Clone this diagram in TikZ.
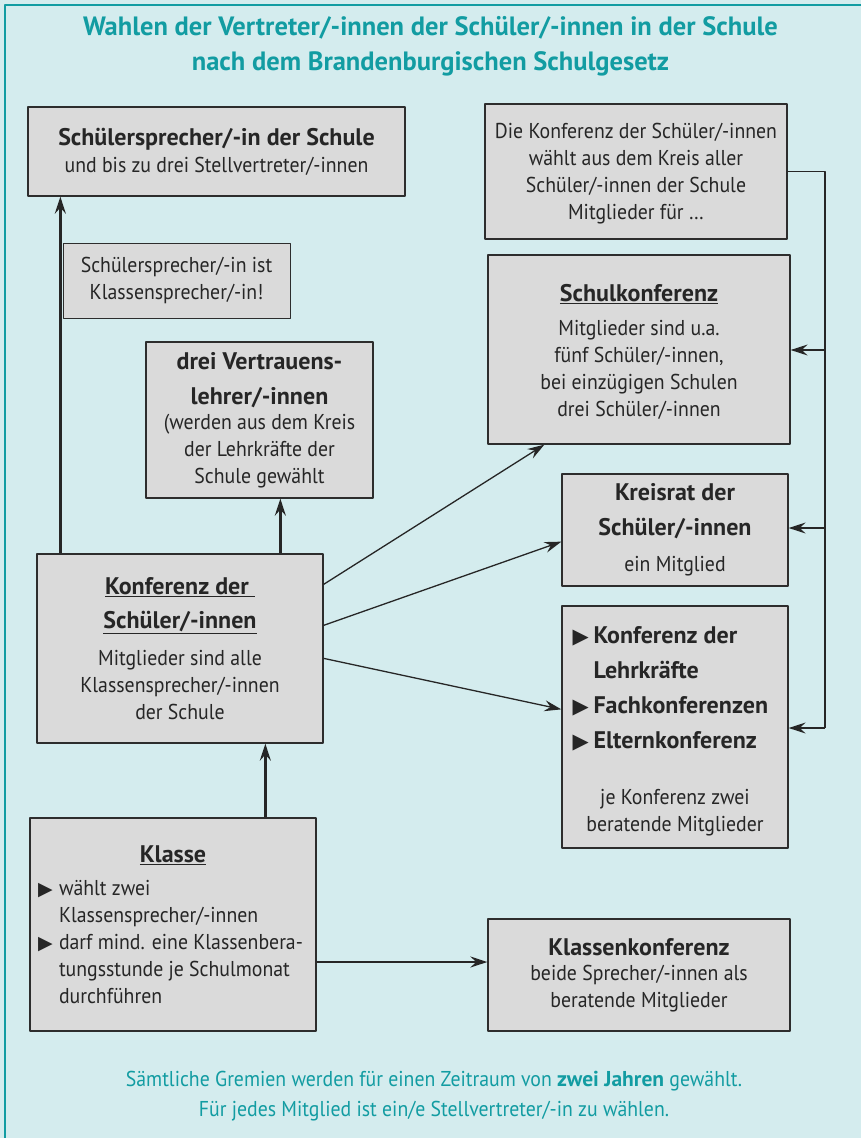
\documentclass[tikz,border=0pt]{standalone}
\usepackage{fontspec}
\setmainfont{PT Sans}[FakeStretch=0.92, BoldFeatures={FakeStretch=1}]
\newfontfamily\symfont{DejaVu Sans}
\usetikzlibrary{arrows.meta,calc}
\definecolor{bglight}{RGB}{212,236,238}
\definecolor{tealtext}{RGB}{18,156,162}
\definecolor{boxgray}{RGB}{218,218,218}
\definecolor{boxline}{RGB}{45,45,45}
% bullet: size, width of bullet plus gap
\newcommand{\tri}[2]{\makebox[#2pt][l]{\symfont\fontsize{#1}{#1}\selectfont ▶}}
\tikzset{
  gbox/.style={draw=boxline, fill=boxgray, line width=1.3pt, inner sep=0pt, align=center, text=black!85},
  body/.style={font=\fontsize{21.5}{27}\selectfont},
  thickarrow/.style={line width=2.4pt, draw=black!85, -{Stealth[length=17pt,width=11pt,inset=6pt]}},
  thinarrow/.style={line width=1.3pt, draw=black!85, -{Stealth[length=17pt,width=11pt,inset=6pt]}}
}
\newcommand{\hd}[1]{{\fontsize{24}{35}\selectfont\bfseries #1}}
\begin{document}
\begin{tikzpicture}[x=1pt, y=-1pt, line join=round]
		\useasboundingbox (0,0) rectangle (861,1138);
		\fill[bglight] (0,0) rectangle (861,1138);
		\draw[tealtext, line width=1.5pt] (5,1138)--(5,5)--(861,5);
		% title
		\node[tealtext, font=\fontsize{26.5}{35}\selectfont\bfseries, align=center] (title) at (430.5,46.5) {Wahlen der Vertreter/-innen der Schüler/-innen in der Schule\\nach dem Brandenburgischen Schulgesetz};
		% boxes
		\node[gbox, body, minimum width=377, minimum height=89] (sprecher) at (216.5,151.5)
			{\hd{Schülersprecher/-in der Schule}\\und bis zu drei Stellvertreter/-innen};
		\node[gbox, body, minimum width=302, minimum height=135] (info) at (636,171.5)
			{Die Konferenz der Schüler/-innen\\wählt aus dem Kreis aller\\Schüler/-innen der Schule\\Mitglieder für \dots\\[-26pt]};
		\node[gbox, body, line width=0.9pt, minimum width=227, minimum height=75] (hinweis) at (176.5,280.5)
			{Schülersprecher/-in ist\\Klassensprecher/-in!};
		\node[gbox, body, minimum width=227, minimum height=156] (vertrauen) at (259.5,420)
			{\hd{drei Vertrauens-}\\[8pt]\hd{lehrer/-innen}\\[-2pt](werden aus dem Kreis\\der Lehrkräfte der\\Schule gewählt\\[-23pt]};
		\node[gbox, body, minimum width=302, minimum height=189] (schulk) at (639,349.5)
			{\hd{\underline{Schulkonferenz}}\\[7pt]Mitglieder sind u.a.\\fünf Schüler/-innen,\\bei einzügigen Schulen\\drei Schüler/-innen\\[-29pt]};
		\node[gbox, body, minimum width=226, minimum height=112] (kreisrat) at (675,530)
			{\hd{Kreisrat der}\\[8pt]\hd{Schüler/-innen}\\[9pt]ein Mitglied};
		\node[gbox, body, minimum width=226, minimum height=242] (lehrk) at (675,727)
			{\begin{minipage}{205pt}\fontsize{24}{35}\selectfont\bfseries
			\tri{21}{21}Konferenz der\\\hspace*{21pt}Lehrkräfte\\\tri{21}{21}Fachkonferenzen\\\tri{21}{21}Elternkonferenz\end{minipage}\\[37pt]je Konferenz zwei\\beratende Mitglieder\\[-31pt]};
		\node[gbox, body, minimum width=286, minimum height=189] (kds) at (180,648.5)
			{\hd{\underline{Konferenz der\ }}\\[7pt]\hd{\underline{Schüler/-innen}}\\[10pt]Mitglieder sind alle\\Klassensprecher/-innen\\der Schule};
		\node[gbox, body, minimum width=286, minimum height=213] (klasse) at (173,924.5)
			{\hd{\underline{Klasse}}\\[15pt]\begin{minipage}{270pt}\fontsize{21.5}{27}\selectfont
			\tri{19}{21}wählt zwei\\\hspace*{21pt}Klassensprecher/-innen\\\tri{19}{21}darf mind. eine Klassenbera-\\\hspace*{21pt}tungsstunde je Schulmonat\\\hspace*{21pt}durchführen\end{minipage}};
		\node[gbox, body, minimum width=302, minimum height=112] (klassenk) at (639,975)
			{\hd{Klassenkonferenz}\\[-2pt]beide Sprecher/-innen als\\beratende Mitglieder};
		% footer
		\node[tealtext, font=\fontsize{21.5}{30}\selectfont, align=center] (footer) at (434,1096)
			{Sämtliche Gremien werden für einen Zeitraum von \textbf{zwei Jahren} gewählt.\\Für jedes Mitglied ist ein/e Stellvertreter/-in zu wählen.};
		% thick connectors
		\draw[thickarrow] ($(kds.north west)+(24,0)$) -- ($(sprecher.south west)+(33,0)$);
		\draw[thickarrow] ($(kds.north west)+(244,0)$) -- ($(vertrauen.south west)+(135,0)$);
		\draw[thickarrow] ($(klasse.north west)+(236,0)$) -- ($(kds.south west)+(229,0)$);
		\coordinate (kl) at ($(klasse.east)+(0,37.5)$);
		\draw[thickarrow] (kl) -- (klassenk.west |- kl);
		% thin connectors
		\draw[thinarrow] ($(kds.north east)+(0,31)$) -- ($(schulk.south west)+(57,0)$);
		\draw[thinarrow] ($(kds.north east)+(0,72)$) -- ($(kreisrat.south west)+(0,-45)$);
		\draw[thinarrow] ($(kds.north east)+(0,105)$) -- ($(lehrk.north west)+(0,104)$);
		% bracket
		\coordinate (b1) at (825,350);
		\coordinate (b2) at (825,528);
		\coordinate (b3) at (825,728);
		\draw[line width=1.3pt, draw=black!85] (info.east) -| (b3);
		\foreach \c/\n in {b1/schulk,b2/kreisrat,b3/lehrk}
		\draw[thinarrow] (\c) -- (\n.east |- \c);
\end{tikzpicture}
\end{document}
